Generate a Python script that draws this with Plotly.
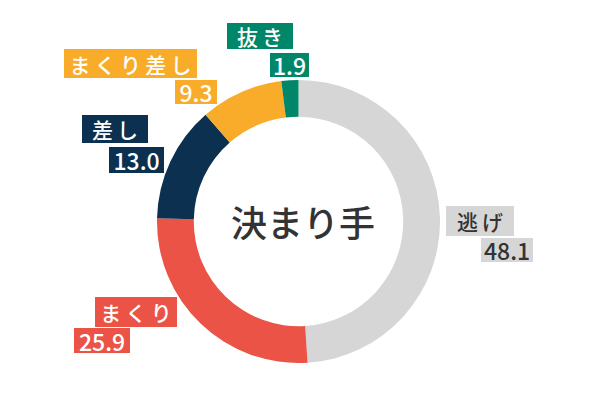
import plotly.graph_objects as go

# 決まり手 data
labels = ["逃げ", "まくり", "差し", "まくり差し", "抜き"]
values = [48.1, 25.9, 13.0, 9.3, 1.9]
colors = ["#d6d6d6", "#ea5345", "#0b3050", "#f8ac2a", "#00876a"]
text_colors = ["#333333", "white", "white", "white", "white"]

# label box placement in page pixels: (name cx, cy, w, h), (value cx, cy, w, h)
label_pos = [
    ((480, 221, 68, 30), (507, 250, 52, 24)),
    ((136, 312, 82, 30), (102, 340.5, 56, 25)),
    ((115, 129, 66, 28), (136.5, 160, 55, 26)),
    ((130.5, 63.5, 133, 29), (196, 92, 42, 24)),
    ((260, 36, 66, 26), (289.5, 65, 39, 24)),
]

W, H = 600, 400
OFF = 8  # page body margin
FONT = "Noto Sans CJK JP"

def px_x(x):
    return (x - OFF) / W

def px_y(y):
    return 1 - (y - OFF) / H

fig = go.Figure()
fig.add_trace(go.Pie(
    labels=labels, values=values, sort=False, direction="clockwise", rotation=0,
    hole=0.74, marker=dict(colors=colors, line=dict(width=0)),
    textinfo="none", hoverinfo="label+value", showlegend=False,
    domain=dict(x=[px_x(157), px_x(440)], y=[px_y(363), px_y(80)]),
))

def box(text, cx, cy, w, h, bg, fg, size):
    fig.add_annotation(
        text=text, x=px_x(cx), y=px_y(cy), xref="paper", yref="paper",
        xanchor="center", yanchor="middle", width=w, height=h,
        bgcolor=bg, borderpad=0, borderwidth=0, showarrow=False,
        font=dict(family=FONT, size=size, color=fg, weight=500),
    )

for i in range(len(labels)):
    n, v = label_pos[i]
    name = "\u2009".join(labels[i])
    box(name, n[0], n[1], n[2], n[3], colors[i], text_colors[i], 21)
    box("%.1f" % values[i], v[0], v[1], v[2], v[3], colors[i], text_colors[i], 23)

fig.add_annotation(
    text="決まり手", x=px_x(303), y=px_y(221), xref="paper", yref="paper",
    showarrow=False, font=dict(family=FONT, size=36, color="#333333", weight=500),
)

fig.update_layout(
    width=W, height=H, margin=dict(l=0, r=0, t=0, b=0),
    paper_bgcolor="white", plot_bgcolor="white",
)
fig.write_html("out.html")
